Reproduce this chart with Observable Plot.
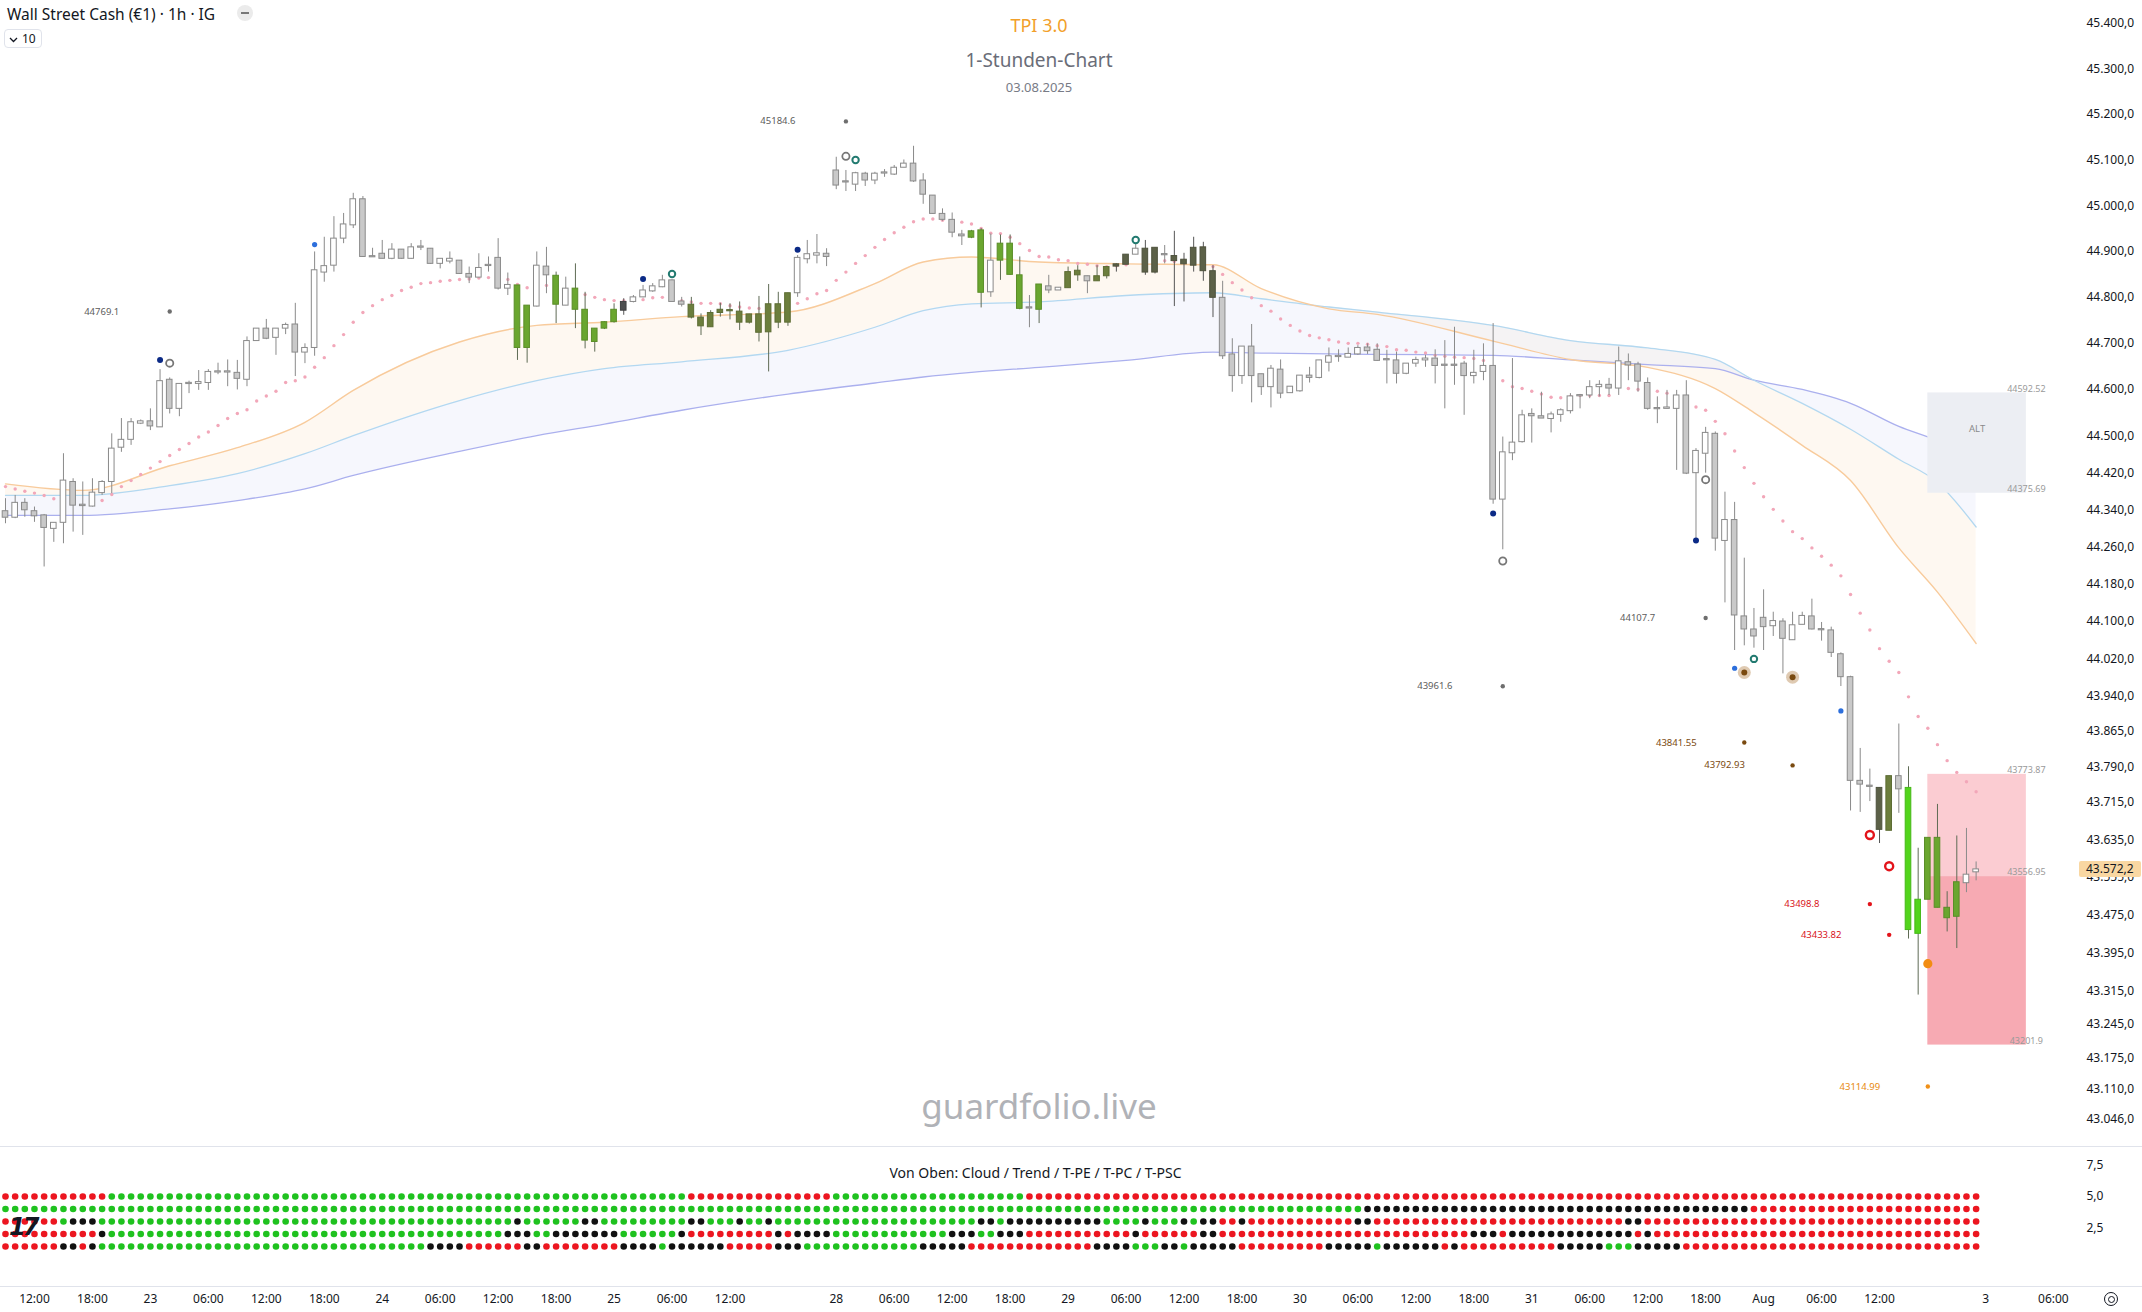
<!DOCTYPE html>
<html><head><meta charset="utf-8">
<script src="https://cdn.jsdelivr.net/npm/d3@7"></script>
<script src="https://cdn.jsdelivr.net/npm/@observablehq/plot@0.6"></script>
<style>
html,body{margin:0;padding:0;background:#fff;}
#wrap{position:relative;width:2142px;height:1312px;overflow:hidden;font-family:"Noto Sans",sans-serif;color:#131722;}
#wrap svg{position:absolute;left:0;}
.abs{position:absolute;white-space:nowrap;}
.sep{position:absolute;left:0;width:2142px;height:1px;background:#e0e3eb;}
</style></head><body><div id="wrap"></div>
<script>
// ---------- candle data (hourly, index 0 = 22 Jul 09:00) ----------
const candleOpen = [44337,44323,44355,44337,44328,44299,44312,44400,44351,44347,
 44376,44400,44474,44491,44526,44531,44518,44621,44558,44612,
 44612,44614,44638,44638,44636,44621,44705,44732,44712,44732,
 44741,44680,44690,44854,44869,44928,44957,45014,44889,44895,
 44884,44904,44884,44909,44906,44873,44878,44880,44851,44843,
 44869,44886,44819,44826,44690,44780,44867,44847,44782,44819,
 44773,44703,44732,44746,44771,44790,44800,44813,44822,44837,
 44791,44784,44756,44735,44766,44771,44769,44745,44763,44724,
 44785,44745,44809,44883,44891,44895,45077,45053,45046,45070,
 45055,45071,45068,45083,45092,45055,45022,44982,44969,44937,
 44930,44946,44811,44880,44917,44848,44778,44773,44824,44815,
 44820,44858,44846,44835,44846,44867,44871,44893,44906,44854,
 44894,44890,44882,44869,44909,44857,44799,44676,44629,44693,
 44633,44605,44643,44592,44596,44630,44625,44658,44671,44669,
 44676,44691,44686,44665,44663,44634,44656,44663,44667,44653,
 44653,44656,44629,44638,44651,44362,44462,44486,44547,44542,
 44536,44545,44553,44586,44587,44605,44610,44602,44659,44654,
 44614,44559,44558,44558,44587,44419,44461,44504,44273,44318,
 44111,44083,44108,44090,44100,44060,44093,44111,44083,44081,
 44030,43981,43760,43749,43745,43654,43770,43745,43436,43508,
 43639,43491,43472,43543,43566];
const candleHigh = [44364,44371,44364,44346,44330,44312,44461,44407,44400,44407,
 44403,44504,44537,44537,44534,44558,44643,44625,44612,44618,
 44641,44643,44657,44664,44663,44714,44732,44752,44732,44744,
 44787,44699,44899,44931,44976,44983,45027,45020,44907,44924,
 44917,44904,44917,44924,44906,44884,44899,44880,44866,44895,
 44888,44928,44853,44826,44782,44899,44909,44855,44844,44873,
 44811,44732,44747,44786,44797,44804,44826,44830,44848,44838,
 44800,44800,44764,44771,44787,44786,44790,44763,44802,44828,
 44811,44809,44891,44924,44937,44906,45106,45077,45073,45073,
 45073,45079,45088,45100,45130,45070,45022,44993,44984,44946,
 44946,44950,44938,44936,44936,44888,44804,44828,44848,44821,
 44866,44869,44846,44869,44867,44873,44893,44917,44924,44908,
 44913,44944,44896,44931,44920,44869,44835,44710,44693,44741,
 44633,44652,44664,44606,44630,44648,44663,44690,44686,44690,
 44695,44699,44699,44685,44681,44656,44670,44674,44686,44706,
 44735,44661,44685,44699,44743,44497,44667,44555,44558,44594,
 44551,44558,44591,44589,44619,44619,44624,44692,44677,44659,
 44625,44584,44598,44598,44619,44472,44518,44508,44378,44356,
 44236,44128,44168,44120,44106,44120,44120,44148,44098,44088,
 44033,43983,43829,43785,43745,43770,43881,43790,43617,43639,
 43710,43525,43643,43659,43588];
const candleLow = [44310,44321,44324,44313,44217,44270,44267,44292,44285,44346,
 44371,44375,44464,44479,44524,44511,44518,44547,44541,44591,
 44598,44598,44632,44606,44599,44606,44705,44708,44674,44719,
 44628,44656,44672,44833,44855,44917,44950,44887,44888,44884,
 44882,44883,44883,44902,44872,44862,44873,44850,44830,44843,
 44855,44816,44804,44663,44657,44779,44808,44743,44782,44732,
 44688,44681,44730,44744,44761,44788,44799,44811,44821,44790,
 44779,44753,44717,44735,44757,44751,44728,44742,44703,44638,
 44732,44737,44800,44873,44873,44867,45035,45031,45031,45042,
 45046,45062,45066,45083,45051,45003,44981,44966,44930,44913,
 44928,44777,44800,44837,44848,44773,44734,44743,44808,44815,
 44820,44835,44808,44835,44840,44855,44871,44893,44848,44851,
 44873,44780,44790,44855,44835,44756,44665,44594,44611,44571,
 44587,44560,44580,44592,44594,44614,44623,44638,44659,44669,
 44674,44676,44661,44612,44612,44632,44648,44648,44612,44558,
 44609,44544,44612,44619,44352,44254,44446,44484,44484,44537,
 44506,44529,44547,44558,44580,44584,44587,44587,44619,44594,
 44555,44526,44558,44425,44416,44274,44419,44251,44140,44038,
 44048,44043,44038,44068,43988,44060,44093,44082,44058,44023,
 43961,43696,43693,43716,43627,43654,43691,43425,43307,43508,
 43491,43440,43405,43523,43548];
const candleClose = [44323,44355,44339,44326,44301,44312,44403,44349,44348,44377,
 44400,44472,44491,44529,44531,44520,44618,44558,44612,44614,
 44616,44638,44638,44638,44623,44705,44732,44710,44732,44740,
 44680,44690,44859,44868,44928,44959,45014,44888,44888,44884,
 44904,44884,44909,44910,44873,44884,44884,44851,44843,44864,
 44870,44819,44827,44690,44782,44869,44848,44784,44819,44773,
 44706,44732,44746,44773,44790,44800,44815,44824,44837,44790,
 44784,44756,44737,44766,44773,44771,44745,44763,44723,44785,
 44745,44809,44886,44894,44896,44888,45044,45051,45071,45055,
 45070,45072,45083,45092,45053,45024,44982,44969,44941,44933,
 44944,44810,44880,44917,44849,44775,44776,44828,44815,44821,
 44855,44848,44835,44846,44866,44872,44893,44906,44854,44908,
 44892,44879,44872,44908,44857,44799,44672,44629,44693,44629,
 44605,44645,44591,44606,44630,44625,44663,44672,44672,44677,
 44690,44683,44662,44664,44634,44656,44664,44667,44651,44652,
 44652,44629,44636,44651,44362,44464,44485,44544,44542,44537,
 44546,44555,44585,44587,44605,44610,44602,44661,44652,44617,
 44558,44558,44561,44587,44418,44467,44506,44278,44318,44113,
 44083,44068,44088,44101,44063,44092,44112,44083,44082,44033,
 43981,43760,43752,43748,43656,43770,43742,43444,43508,43639,
 43491,43469,43545,43561,43572.2];
// bar colouring: w=white, g=grey, G=green, O=olive, D=dark, E=dark olive, L=lime
const candleColor = ("gwgggwwggw"+"wwwwwgwgww"+"wwwwgwwgww"+"gwwwwwwggg"+"wgwwgwwggw"+
 "wgwGGwgGwG"+"GGGGDwwwwg"+"gOOOOOOOOO"+"OOwwwgggwg"+"wwwwgggggg"+
 "GGwGGGgGgw"+"OOgOOEEwEE"+"gEEEEEggwg"+"gwgwwgwwww"+"wggggwwwgg"+
 "ggwwgwwwgg"+"wwwwwwgwgg"+"ggwwgwwgwg"+"gggwgwwggg"+"ggggEOgLLG"+"GGGww").split("");

// trailing stop dots (pink)
const sarValue = [44390,44385,44380,44376,44371,44364,null,null,null,null,
 44360,44373,44390,44403,44416,44430,44444,44457,44470,44483,
 44497,44508,44522,44537,44548,44556,44575,44586,44596,44615,
 44619,44627,44648,44669,44695,44719,44746,44767,44782,44795,
 44804,44815,44822,44830,44832,44835,44837,44839,44840,44842,
 44843,44841,44839,44828,44821,null,44826,44822,44817,44813,
 44806,44800,44795,44793,44793,44794,44795,44799,44800,44798,
 44793,44790,44787,44787,44786,44782,44779,44777,44776,null,
 null,null,44787,44797,44808,44815,44837,44855,44874,44891,
 44909,44926,44941,44953,44965,44971,44971,44968,44964,44964,
 44960,44950,44940,44939,44931,44917,44902,44889,44888,44882,
 44880,44874,44872,44869,44867,44869,44871,null,null,null,
 44880,44878,44876,44874,44871,44867,44850,44832,44816,44799,
 44782,44770,44753,44739,44727,44717,44712,44708,44703,44700,
 44700,44698,44695,44693,44686,44685,44681,44679,44674,44672,
 44670,44669,44667,44663,44638,44619,44606,44602,44596,44590,
 44583,44582,44585,44587,44587,44587,44587,null,44602,44600,
 44598,44596,44592,44583,44576,44562,44555,44531,44504,44467,
 44431,44397,44368,44341,44316,44293,44278,44258,44240,44221,
 44198,44158,44118,44082,44042,44015,43991,43939,43897,43872,
 43837,43803,43778,43758,43737];

// moving averages (cloud), sampled at bar index
const emaK = [0,8,17,24,31,36,47,55,62,70,81,90,95,100,107,116,125,130,137,142,154,162,170,177,181,186,191,196,200,204];
const emaOrange = [44396,44382,44435,44474,44529,44598,44703,44739,44746,44758,44768,44830,44877,44888,44877,44873,44871,44819,44775,44763,44705,44665,44648,44602,44550,44479,44403,44258,44163,44053];
const emaBlue = [44371,44371,44392,44418,44461,44500,44576,44619,44645,44660,44685,44735,44771,44786,44790,44804,44810,44797,44779,44768,44739,44706,44690,44665,44620,44570,44514,44449,44399,44303];
const emaPurple = [44328,44328,44342,44360,44385,44414,44466,44500,44525,44555,44590,44614,44627,44637,44648,44663,44681,44679,44677,44676,44674,44664,44654,44645,44620,44600,44570,44520,44489,44447];

// signal markers [bar, price]
const navyDots = [[16,44664],[66,44840],[82,44904],[154,44332],[175,44274]];
const blueDots = [[32,44915],[179,44000],[190,43909]];
const greyRings = [[17,44657],[87,45108],[155,44230],[176,44405]];
const tealRings = [[69,44851],[88,45100],[117,44925],[181,44020]];
const plusMarks = [[4,44181],[37,45051],[79,44605],[94,45157]];
const brownGlow = [[180,43991],[185,43981]];
const redRings = [[193,43645],[195,43579]];
const orangeDots = [[199,43373]];

// labelled levels
const levelK = [17,87,155,176,180,185,193,195,199];
const levelPrice = [44769.1,45184.6,43961.6,44107.7,43841.55,43792.93,43498.8,43433.82,43114.99];
const levelKind = ["grey","grey","grey","grey","brown","brown","red","red","orange"];

// zones
const zoneStart = [199,199,199];
const zoneEnd = [209.2,209.2,209.2];
const zoneTop = [44592.52,43773.87,43556.95];
const zoneBottom = [44375.69,43556.95,43201.9];
const zoneFill = ["#eceef3","#fbccd2","#f7aab3"];
const zoneLabelValues = [44592.52,44375.69,43773.87,43556.95,43201.9];
const altLabelPrice = 44515;

const currentPrice = 43572.2;
const priceTicks = [45400,45300,45200,45100,45000,44900,44800,44700,44600,44500,44420,44340,44260,44180,44100,44020,43940,43865,43790,43715,43635,43555,43475,43395,43315,43245,43175,43110,43046];

// time axis
const xTickK = [3,9,15,21,27,33,39,45,51,57,63,69,75,86,92,98,104,110,116,122,128,134,140,146,152,158,164,170,176,182,188,194,205,212];
const xTickLabel = ["12:00","18:00","23","06:00","12:00","18:00","24","06:00","12:00","18:00","25","06:00","12:00","28","06:00","12:00","18:00","29","06:00","12:00","18:00","30","06:00","12:00","18:00","31","06:00","12:00","18:00","Aug","06:00","12:00","3","06:00"];

// lower pane rows (run-length, read left to right)
const rowNames = ["Cloud","Trend","T-PE","T-PC","T-PSC"];
const rowCloud = "R11 G60 R15 G20 R99";
const rowTrend = "G141 B40 R24";
const rowTPE = "R6 G1 B3 G43 B1 G6 B2 G9 B2 G3 B1 G2 B1 G21 B2 G1 B10 G4 B1 G3 B1 G1 B2 R2 B1 R11 B2 R26 B2 R35";
const rowTPC = "R10 B1 G41 B3 G2 B7 G6 B1 R9 B1 R1 B4 G12 B3 G2 B3 R11 B1 R6 B2 R26 B3 R1 B13 R1 B1 R34";
const rowTPSC = "R6 B2 R1 B1 G34 B4 R6 B2 R8 B4 G1 B6 R5 B3 G12 B5 R13 B4 G3 B2 G1 B5 R9 B5 G1 B6 R1 B1 R10 B5 G3 B5 R31";
const paneTicks = [7.5,5,2.5];

// ---------- build tables ----------
const candles = candleOpen.map((o,i)=>({k:i,open:o,high:candleHigh[i],low:candleLow[i],close:candleClose[i],c:candleColor[i]}));
const sar = sarValue.map((v,i)=>({k:i,v})).filter(d=>d.v!=null);
const ema = emaK.map((k,i)=>({k,o:emaOrange[i],b:emaBlue[i],p:emaPurple[i]}));
const pts = a => a.map(([k,v])=>({k,v}));
const levels = levelK.map((k,i)=>({k,v:levelPrice[i],kind:levelKind[i]}));
const zones = zoneStart.map((s,i)=>({x1:s,x2:zoneEnd[i],top:zoneTop[i],bottom:zoneBottom[i],fill:zoneFill[i]}));
const zoneLabels = zoneLabelValues.map(v=>({k:zoneEnd[0],v}));

const fillMap = {w:"#ffffff",g:"#c9c9c9",G:"#6aa62f",O:"#6c7e3d",D:"#4e4f50",E:"#5c6148",L:"#52d41c"};
const strokeMap = {w:"#8a8a8a",g:"#8a8a8a",G:"#5a8d28",O:"#5d6c34",D:"#404142",E:"#4e523d",L:"#45b817"};
const wickMap = {w:"#8a8a8a",g:"#8a8a8a",G:"#5f6b55",O:"#5f6b55",D:"#555",E:"#555",L:"#5f6b55"};
const levelColor = {grey:"#6e6e6e",brown:"#7a4a10",red:"#e3141b",orange:"#f09018"};
const levelText = {grey:"#5c5c5c",brown:"#7a4a10",red:"#d8121a",orange:"#e8890f"};

function fmtDE(v, dec){
  const s = v.toFixed(dec); const [a,b] = s.split(".");
  return a.replace(/\B(?=(\d{3})+(?!\d))/g,".") + (b!==undefined?","+b:"");
}
const bodyLo = d => Math.abs(d.open-d.close) < 2.5 ? (d.open+d.close)/2 - 1.3 : Math.min(d.open,d.close);
const bodyHi = d => Math.abs(d.open-d.close) < 2.5 ? (d.open+d.close)/2 + 1.3 : Math.max(d.open,d.close);

const W = 2142, MR = 72;
const xDomain = [-0.5176, 213.77];
const font = "Noto Sans, sans-serif";

function priceTag(index, scales, values, dimensions){
  const g = d3.create("svg:g");
  const y = scales.y(currentPrice);
  const x0 = dimensions.width - dimensions.marginRight;
  g.append("rect").attr("x",x0+9).attr("y",y-8).attr("width",62).attr("height",16).attr("rx",2).attr("fill","#f9d7a2");
  g.append("text").attr("x",x0+16).attr("y",y).attr("dy","0.35em").attr("text-anchor","start").attr("font-size",12).attr("fill","#131722").text(fmtDE(currentPrice,1));
  return g.node();
}

const main = Plot.plot({
  width: W, height: 1146,
  marginLeft: 0, marginRight: MR, marginTop: 23, marginBottom: 27,
  x: {domain: xDomain, axis: null},
  y: {type: "log", domain: [43046, 45400], axis: null},
  style: {fontFamily: font, fontSize: "12px", background: "transparent", overflow: "visible"},
  marks: [
    Plot.areaY(ema, {x:"k", y1:"o", y2:"b", fill:"#fdecd8", fillOpacity:0.35, curve:"monotone-x"}),
    Plot.areaY(ema, {x:"k", y1:"b", y2:"p", fill:"#e9ebfb", fillOpacity:0.4, curve:"monotone-x"}),
    Plot.line(ema, {x:"k", y:"p", stroke:"#abb0ee", strokeWidth:1.3, curve:"monotone-x"}),
    Plot.line(ema, {x:"k", y:"b", stroke:"#b3d8f0", strokeWidth:1.3, curve:"monotone-x"}),
    Plot.line(ema, {x:"k", y:"o", stroke:"#f8cb9c", strokeWidth:1.4, curve:"monotone-x"}),
    Plot.rect(zones, {x1:"x1", x2:"x2", y1:"bottom", y2:"top", fill:"fill"}),
    Plot.text(zoneLabels, {x:"k", y:"v", text: d=>String(d.v), fontSize:9, fill:"#9a9a9a", dy:-4}),
    Plot.text([altLabelPrice], {x: (zoneStart[0]+zoneEnd[0])/2, y: d=>d, text: ()=>"ALT", fontSize:9.5, fill:"#8a8a8a"}),
    Plot.dot(sar, {x:"k", y:"v", r:1.7, fill:"#f2a7b9", stroke:"none"}),
    Plot.ruleX(candles, {x:"k", y1:"low", y2:"high", stroke: d=>wickMap[d.c], strokeWidth:1}),
    Plot.rect(candles, {x1: d=>d.k-0.29, x2: d=>d.k+0.29, y1: bodyLo, y2: bodyHi, fill: d=>fillMap[d.c], stroke: d=>strokeMap[d.c], strokeWidth:1}),
    Plot.dot(pts(brownGlow), {x:"k", y:"v", r:6.5, fill:"#b98a55", fillOpacity:0.45}),
    Plot.dot(pts(brownGlow), {x:"k", y:"v", r:3, fill:"#7a4a10"}),
    Plot.dot(pts(navyDots), {x:"k", y:"v", r:3, fill:"#0b2a86"}),
    Plot.dot(pts(blueDots), {x:"k", y:"v", r:2.6, fill:"#2d6fdc"}),
    Plot.dot(pts(greyRings), {x:"k", y:"v", r:3.6, fill:"#fff", stroke:"#777", strokeWidth:1.8}),
    Plot.dot(pts(tealRings), {x:"k", y:"v", r:3.2, fill:"#fff", stroke:"#227a70", strokeWidth:2}),
    Plot.dot(pts(redRings), {x:"k", y:"v", r:4, fill:"#fff", stroke:"#e3141b", strokeWidth:2.4}),
    Plot.dot(pts(plusMarks), {x:"k", y:"v", symbol:"plus", r:3.6, fill:"#555", stroke:"none"}),
    Plot.dot(pts(orangeDots), {x:"k", y:"v", r:4.6, fill:"#f28c12"}),
    Plot.dot(levels, {x:"k", y:"v", r:2.2, fill: d=>levelColor[d.kind]}),
    Plot.text(levels, {x:"k", y:"v", text: d=>String(d.v), fill: d=>levelText[d.kind], fontSize:9.5, dx:-68}),
    Plot.axisY(priceTicks, {anchor:"right", label:null, tickSize:0, tickPadding:16, tickFormat: v=>fmtDE(v,1), fontSize:12, fill:"#131722", textAnchor:"start"}),
    priceTag
  ]
});

// lower pane
function expand(rle){ const out=[]; rle.split(" ").forEach(t=>{const c=t[0], n=+t.slice(1); for(let i=0;i<n;i++) out.push(c);}); return out; }
const rows = [rowCloud,rowTrend,rowTPE,rowTPC,rowTPSC];
const cells = [];
rows.forEach((r,ri)=>expand(r).forEach((c,k)=>cells.push({k, row:5-ri, c})));
const cellColor = {R:"#ec1620",G:"#1fc21f",B:"#111111"};
const xLabel = new Map(xTickK.map((k,i)=>[k,xTickLabel[i]]));

const pane = Plot.plot({
  width: W, height: 166,
  marginLeft: 0, marginRight: MR, marginTop: 0, marginBottom: 26,
  x: {domain: xDomain, axis: null, label: null},
  y: {domain: [-2.2, 9], axis: null, label: null},
  style: {fontFamily: font, fontSize: "12px", background: "transparent", overflow: "visible"},
  marks: [
    Plot.dot(cells, {x:"k", y:"row", r:3.3, fill: d=>cellColor[d.c], stroke:"none"}),
    Plot.text(["Von Oben: " + rowNames.join(" / ")], {frameAnchor:"top", dy:22, fontSize:14, fill:"#131722"}),
    Plot.axisY(paneTicks, {anchor:"right", label:null, tickSize:0, tickPadding:16, tickFormat: v=>fmtDE(v,1), fontSize:12, fill:"#131722", textAnchor:"start"}),
    Plot.axisX(xTickK, {anchor:"bottom", label:null, tickSize:0, tickPadding:8, tickFormat: k=>xLabel.get(k), fontSize:12, fill:"#131722"})
  ]
});

const wrap = document.getElementById("wrap");
main.style.top = "0px";
pane.style.top = "1146px";
wrap.appendChild(main);
wrap.appendChild(pane);

function addDiv(html, css, cls){ const d=document.createElement("div"); d.className=cls||"abs"; d.innerHTML=html; Object.assign(d.style, css); wrap.appendChild(d); return d; }
addDiv("", {top:"1146px"}, "sep");
addDiv("", {top:"1286px"}, "sep");
addDiv("Wall Street Cash (€1) · 1h · IG", {left:"7px", top:"3px", fontSize:"15.5px", color:"#131722"});
addDiv('<div style="width:8px;height:2px;background:#777;margin:7px auto 0"></div>', {left:"237px", top:"5px", width:"16px", height:"16px", borderRadius:"50%", background:"#ebebeb"});
addDiv('<svg width="9" height="6" style="position:static;vertical-align:middle;margin-right:4px"><path d="M1 1 L4.5 4.5 L8 1" fill="none" stroke="#131722" stroke-width="1.3"/></svg>10',
  {left:"4px", top:"29px", width:"28px", height:"17px", padding:"0 4px", border:"1px solid #e0e3eb", borderRadius:"4px", fontSize:"12px", lineHeight:"17px"});
addDiv("TPI 3.0", {left:"1039px", top:"13px", transform:"translateX(-50%)", fontSize:"18px", color:"#f2a02a"});
addDiv("1-Stunden-Chart", {left:"1039px", top:"47px", transform:"translateX(-50%)", fontSize:"19px", color:"#6a6d78"});
addDiv("03.08.2025", {left:"1039px", top:"78px", transform:"translateX(-50%)", fontSize:"13px", color:"#787b86"});
addDiv("guardfolio.live", {left:"1039px", top:"1082px", transform:"translateX(-50%)", fontSize:"35px", color:"#b0b2b7"});
addDiv("17", {left:"9px", top:"1213px", fontSize:"24px", fontWeight:"900", fontStyle:"italic", letterSpacing:"-3px", color:"#131722", fontFamily:"DejaVu Sans, sans-serif"});
addDiv('<div style="width:5px;height:5px;border:1.5px solid #131722;border-radius:50%;margin:2.5px auto 0"></div>', {left:"2104px", top:"1292px", width:"14px", height:"14px", border:"1.3px solid #131722", borderRadius:"50%", boxSizing:"border-box"});
</script></body></html>
